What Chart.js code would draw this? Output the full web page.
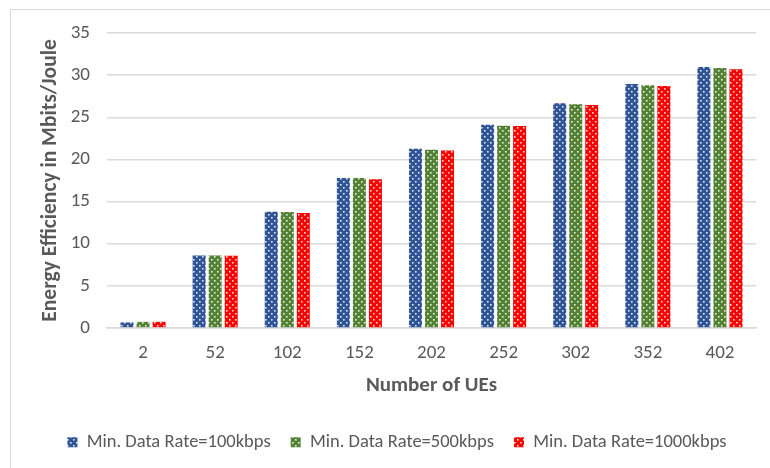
<!DOCTYPE html>
<html>
<head>
<meta charset="utf-8">
<script src="https://cdn.jsdelivr.net/npm/chart.js@4/dist/chart.umd.min.js"></script>
<style>
  html, body { margin: 0; padding: 0; background: #fff; }
  #wrap { position: relative; width: 770px; height: 468px; overflow: hidden; }
  #frame { position: absolute; left: 10px; top: 9px; width: 780px; height: 480px;
           border-left: 1.5px solid #d9d9d9; border-top: 1.5px solid #d9d9d9; box-sizing: border-box; }
  canvas { position: absolute; left: 0; top: 0; }
</style>
</head>
<body>
<div id="wrap">
  <div id="frame"></div>
  <canvas id="c" width="770" height="468"></canvas>
</div>
<script>
// Number of user equipments on the x axis
const categories = ['2', '52', '102', '152', '202', '252', '302', '352', '402'];

// Energy efficiency (Mbits/Joule) per minimum data rate setting
const rate100kbps  = [0.65, 8.6, 13.8, 17.8, 21.25, 24.1, 26.65, 28.95, 30.95];
const rate500kbps  = [0.72, 8.6, 13.75, 17.8, 21.15, 24.0, 26.55, 28.8, 30.85];
const rate1000kbps = [0.72, 8.55, 13.65, 17.65, 21.05, 23.95, 26.45, 28.7, 30.7];

const seriesNames = ['Min. Data Rate=100kbps', 'Min. Data Rate=500kbps', 'Min. Data Rate=1000kbps'];

const yTicks = [0, 5, 10, 15, 20, 25, 30, 35];

// Dotted fill: white specks on the series colour
function dotPattern(color) {
  const p = document.createElement('canvas');
  p.width = 6; p.height = 6;
  const g = p.getContext('2d');
  g.fillStyle = color;
  g.fillRect(0, 0, 6, 6);
  g.fillStyle = 'rgba(255,255,255,0.85)';
  g.fillRect(1, 1, 1.6, 1.6);
  g.fillRect(4, 4, 1.6, 1.6);
  return g.createPattern(p, 'repeat');
}

const font = "Calibri, Carlito, 'Liberation Sans Narrow', 'Open Sans', sans-serif";
const textColor = '#595959';

const ctx = document.getElementById('c').getContext('2d');
new Chart(ctx, {
  type: 'bar',
  data: {
    labels: categories,
    datasets: [
      { label: seriesNames[0], data: rate100kbps,  backgroundColor: dotPattern('#2f5597') },
      { label: seriesNames[1], data: rate500kbps,  backgroundColor: dotPattern('#548235') },
      { label: seriesNames[2], data: rate1000kbps, backgroundColor: dotPattern('#ff0000') }
    ]
  },
  options: {
    responsive: false,
    animation: false,
    devicePixelRatio: 1,
    layout: { padding: { left: 38, right: 14, top: 33, bottom: 6.6 } },
    datasets: { bar: { categoryPercentage: 0.667, barPercentage: 0.81 } },
    plugins: {
      legend: {
        position: 'bottom',
        labels: {
          font: { family: font, size: 18.5 },
          color: textColor,
          boxWidth: 10,
          boxHeight: 10,
          padding: 20
        }
      },
      tooltip: { enabled: false }
    },
    scales: {
      x: {
        grid: { display: false, drawTicks: false },
        border: { display: true, color: '#d9d9d9', width: 1.5 },
        ticks: { font: { family: font, size: 19 }, color: textColor, padding: 14 },
        title: {
          display: true, text: 'Number of UEs',
          font: { family: font, size: 21, weight: 'bold' }, color: textColor,
          padding: { top: -6, bottom: 15 }
        }
      },
      y: {
        min: 0, max: 35,
        afterBuildTicks: (s) => { s.ticks = yTicks.map(v => ({ value: v })); },
        afterFit: (s) => { s.width = 69; },
        grid: { color: '#d9d9d9', lineWidth: 1.5, drawTicks: false },
        border: { display: false },
        ticks: { font: { family: font, size: 19 }, color: textColor, padding: 17 },
        title: {
          display: true, text: 'Energy Efficiency in Mbits/Joule',
          font: { family: font, size: 21.5, weight: 'bold' }, color: textColor,
          padding: { top: 0, bottom: 0 }
        }
      }
    }
  }
});
</script>
</body>
</html>
